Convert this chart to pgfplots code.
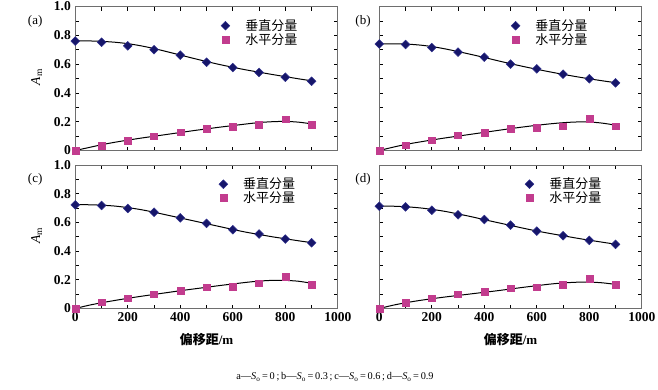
\documentclass[border=0pt]{standalone}
\usepackage{fontspec}
\setmainfont{Liberation Serif}
\newfontfamily\cjk{Noto Sans CJK SC}
\usepackage{pgfplots}
\usepackage{pgfplotstable}
\pgfplotsset{compat=1.18}

\definecolor{vblue}{HTML}{16166A}
\definecolor{vblueedge}{HTML}{2E2E8C}
\definecolor{hmag}{HTML}{C23C8E}
\definecolor{frame}{HTML}{6E6E6E}

% measured points
\pgfplotstableread{
x    av    ah    bv    bh    cv    ch    dv    dh
0    0.760 0.000 0.740 0.000 0.722 0.000 0.713 0.000
100  0.752 0.035 0.736 0.037 0.718 0.044 0.708 0.042
200  0.727 0.067 0.715 0.072 0.697 0.072 0.685 0.072
300  0.700 0.100 0.683 0.106 0.671 0.100 0.653 0.100
400  0.662 0.127 0.648 0.125 0.632 0.125 0.620 0.118
500  0.613 0.153 0.600 0.150 0.593 0.148 0.581 0.141
600  0.576 0.164 0.567 0.160 0.549 0.153 0.539 0.148
700  0.542 0.178 0.530 0.169 0.519 0.176 0.507 0.167
800  0.509 0.218 0.498 0.222 0.484 0.220 0.475 0.208
900  0.481 0.178 0.470 0.169 0.458 0.167 0.447 0.167
}\pts

% fitted curves
\pgfplotstableread{
x    av    ah    bv    bh    cv    ch    dv    dh
0    0.762 0.000 0.741 0.000 0.724 0.000 0.714 0.000
50   0.761 0.020 0.741 0.022 0.723 0.022 0.713 0.022
100  0.758 0.040 0.739 0.042 0.720 0.040 0.709 0.040
150  0.752 0.057 0.733 0.058 0.714 0.056 0.702 0.055
200  0.742 0.072 0.722 0.073 0.703 0.071 0.691 0.068
250  0.727 0.086 0.706 0.087 0.689 0.085 0.677 0.080
300  0.708 0.099 0.687 0.100 0.671 0.098 0.659 0.091
350  0.686 0.112 0.667 0.113 0.651 0.111 0.640 0.102
400  0.663 0.125 0.646 0.126 0.631 0.124 0.619 0.113
450  0.640 0.138 0.624 0.139 0.611 0.136 0.599 0.124
500  0.618 0.150 0.603 0.152 0.591 0.148 0.579 0.136
550  0.597 0.162 0.583 0.164 0.571 0.160 0.559 0.148
600  0.578 0.173 0.564 0.175 0.551 0.171 0.540 0.159
650  0.560 0.184 0.546 0.185 0.532 0.182 0.523 0.170
700  0.544 0.194 0.529 0.193 0.516 0.191 0.507 0.178
750  0.528 0.200 0.513 0.198 0.500 0.196 0.491 0.183
800  0.513 0.202 0.498 0.198 0.486 0.196 0.476 0.184
850  0.498 0.197 0.484 0.190 0.472 0.190 0.462 0.179
900  0.484 0.185 0.471 0.176 0.459 0.176 0.448 0.168
}\crv

\pgfplotsset{
  panel/.style={
    scale only axis, width=262.5pt, height=144pt,
    xmin=0, xmax=1000, ymin=0, ymax=1,
    xtick={0,200,400,600,800,1000}, minor xtick={100,300,500,700,900},
    ytick={0,0.2,0.4,0.6,0.8,1.0}, minor ytick={0.1,0.3,0.5,0.7,0.9},
    tick align=inside,
    major tick length=4pt, minor tick length=4pt,
    axis line style={frame, line width=0.8pt},
    every tick/.style={black, line width=0.7pt},
    tick label style={font=\fontsize{13.5}{15}\selectfont},
    xticklabels={\textbf{0},\textbf{200},\textbf{400},\textbf{600},\textbf{800},\textbf{1000}},
    yticklabels={\textbf{0},\textbf{0.2},\textbf{0.4},\textbf{0.6},\textbf{0.8},\textbf{1.0}},
    yticklabel style={xshift=-1pt},
    legend style={draw=none, fill=none, font=\cjk\fontsize{13}{15}\selectfont,
      row sep=-2.5pt, inner sep=0pt},
    legend cell align=left,
    legend image code/.code={\draw[##1] plot coordinates {(0.3cm,0cm)}; \path (0cm,0cm) (0.92cm,0cm);},
    clip=false,
  },
  vmark/.style={only marks, mark=square*, mark size=3.1pt,
    mark options={rotate=45, fill=vblue, draw=vblueedge, line width=0.5pt}},
  hmark/.style={only marks, mark=square*, mark size=3.4pt,
    mark options={fill=hmag, draw=hmag}},
  fit/.style={black, line width=1pt, smooth, no marks, forget plot},
  ylab/.style={ylabel={\textit{A}\textsubscript{m}},
    ylabel style={at={(axis description cs:-0.147,0.51)}, anchor=center,
      font=\fontsize{13.5}{15}\selectfont}},
  xlab/.style={xlabel={{\cjk\bfseries 偏移距}\textbf{/m}},
    xlabel style={at={(axis description cs:0.5,-0.22)}, anchor=center,
      font=\fontsize{13}{15}\selectfont}},
}

\newcommand{\panel}[2]{% #1 v col, #2 h col
  \addplot[fit] table[x=x,y=#1]{\crv};
  \addplot[fit] table[x=x,y=#2]{\crv};
  \addplot[vmark] table[x=x,y=#1]{\pts};
  \addplot[hmark] table[x=x,y=#2]{\pts};
  \legend{垂直分量,水平分量}
}

\begin{document}
\begin{tikzpicture}[x=1pt,y=1pt]
\useasboundingbox (0,0) rectangle (658,-389);

% (a)
\begin{axis}[panel, ylab, at={(75.3pt,-150.5pt)}, anchor=south west,
  xticklabels={},
  legend style={at={(axis description cs:0.538,0.925)}, anchor=north west}]
\panel{av}{ah}
\node[font=\fontsize{13}{15}\selectfont] at (axis description cs:-0.153,0.90) {(a)};
\end{axis}

% (b)
\begin{axis}[panel, at={(379.3pt,-150.5pt)}, anchor=south west,
  xticklabels={}, yticklabels={},
  legend style={at={(axis description cs:0.485,0.925)}, anchor=north west}]
\panel{bv}{bh}
\node[font=\fontsize{13}{15}\selectfont] at (axis description cs:-0.062,0.90) {(b)};
\end{axis}

% (c)
\begin{axis}[panel, ylab, xlab, at={(75.3pt,-308.5pt)}, anchor=south west,
  height=143.5pt,
  legend style={at={(axis description cs:0.53,0.925)}, anchor=north west}]
\panel{cv}{ch}
\node[font=\fontsize{13}{15}\selectfont] at (axis description cs:-0.153,0.90) {(c)};
\end{axis}

% (d)
\begin{axis}[panel, xlab, at={(379.3pt,-308.5pt)}, anchor=south west,
  height=143.5pt, yticklabels={},
  legend style={at={(axis description cs:0.538,0.925)}, anchor=north west}]
\panel{dv}{dh}
\node[font=\fontsize{13}{15}\selectfont] at (axis description cs:-0.062,0.90) {(d)};
\end{axis}

\node[font=\fontsize{10.3}{12}\selectfont, anchor=center] at (335,-377)
  {a---\textit{S}\textsubscript{o}\,=\,0\,;\,b---\textit{S}\textsubscript{o}\,=\,0.3\,;\,c---\textit{S}\textsubscript{o}\,=\,0.6\,;\,d---\textit{S}\textsubscript{o}\,=\,0.9};
\end{tikzpicture}
\end{document}
